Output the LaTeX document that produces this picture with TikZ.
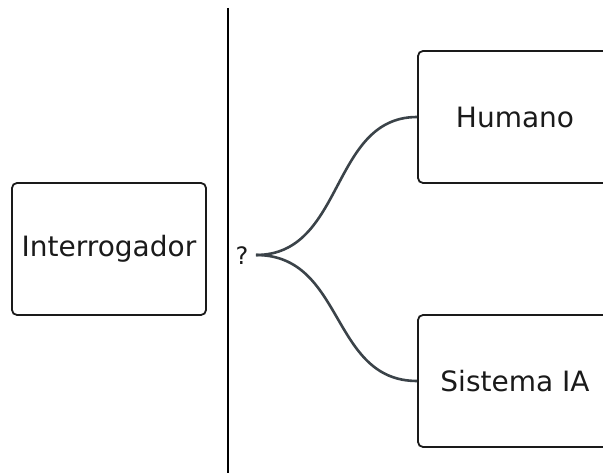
\documentclass[tikz,border=0pt]{standalone}
\usepackage{fontspec}
\setmainfont{DejaVu Sans}
\definecolor{curvegray}{HTML}{3B4349}
\definecolor{inkblack}{HTML}{1A1A1A}
\begin{document}
\begin{tikzpicture}[x=1pt,y=-1pt,
  box/.style={draw=inkblack, line width=1.8pt, rounded corners=5pt, minimum width=194pt, minimum height=132pt, inner sep=0pt, font=\fontsize{28}{30}\selectfont, text=inkblack},
  branch/.style={draw=curvegray, line width=2.6pt},
  divider/.style={draw=black, line width=2pt}]
\useasboundingbox (0,0) rectangle (603,473);
\clip (0,0) rectangle (603,473);
\node[box] (interr) at (109,249) {Interrogador};
\node[box] (humano) at (515,117) {Humano};
\node[box] (sistema) at (515,381) {Sistema IA};
\coordinate (divtop) at (228,8);
\coordinate (divbot) at (228,473);
\draw[divider] (divtop) -- (divbot);
\node[font=\fontsize{24}{26}\selectfont, text=inkblack, inner sep=0pt] (q) at (242,256) {?};
\coordinate (fork) at (256,255);
\draw[branch] (fork) .. controls (345,255) and (330,117) .. (humano.west);
\draw[branch] (fork) .. controls (345,255) and (330,381) .. (sistema.west);
\end{tikzpicture}
\end{document}
